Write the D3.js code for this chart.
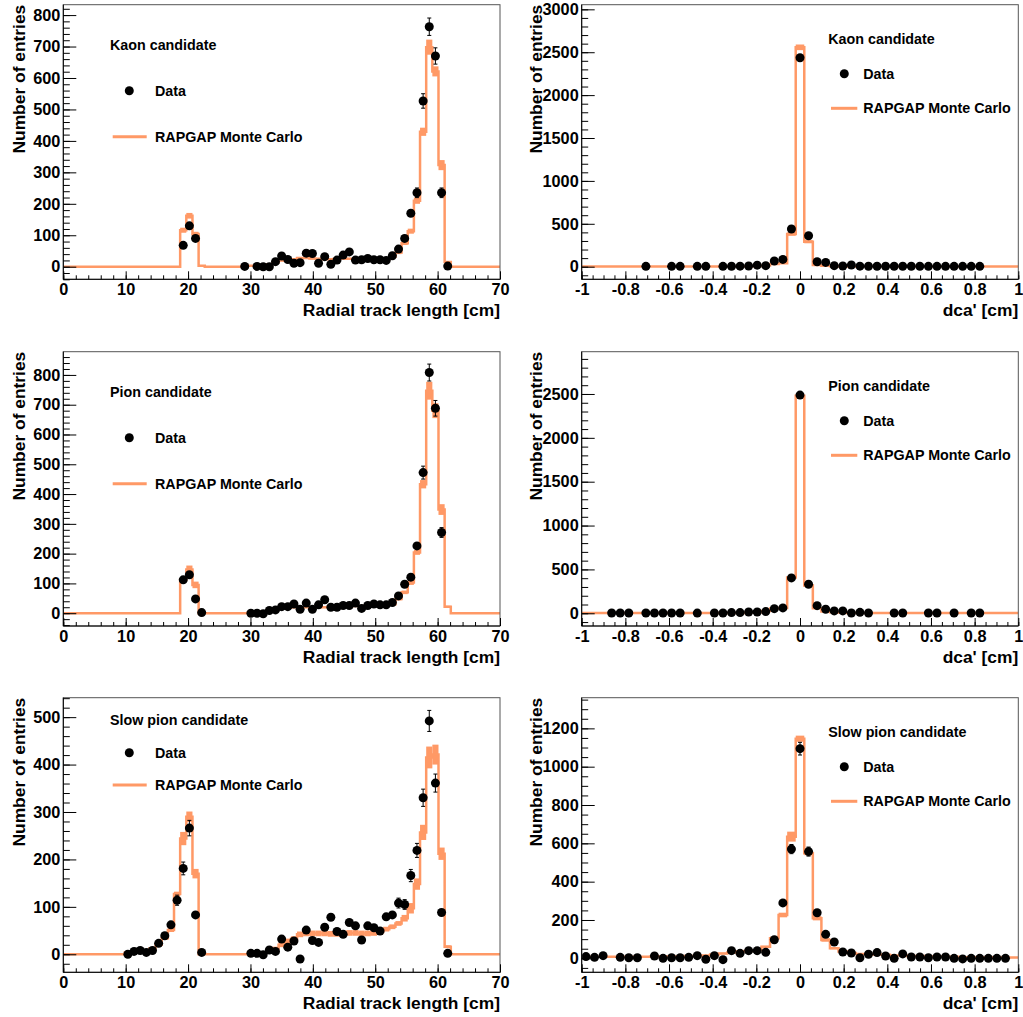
<!DOCTYPE html>
<html><head><meta charset="utf-8">
<script src="https://cdn.jsdelivr.net/npm/d3@7"></script>
<style>
body{margin:0;background:#fff}
svg{display:block}
text{font-family:"Liberation Sans",Arial,Helvetica,sans-serif;font-weight:bold;fill:#000}
</style></head>
<body><svg id="c" width="1023" height="1017"></svg>
<script>
// ---------------- data ----------------
const RADIAL_BINS = 71;   // 0..70 cm
const DCA_BINS = 51;      // -1..1 cm

const radialXTicks = [0,10,20,30,40,50,60,70];
const dcaXTicks = [-1,-0.8,-0.6,-0.4,-0.2,0,0.2,0.4,0.6,0.8,1];

// Kaon, radial track length (data from bin 19, MC from bin 18)
const kaonRadialDataFirst = 19;
const kaonRadialData = [68,130,90,null,null,null,null,null,null,null,1,null,1,0,0,16,34,23,11,13,43,42,11,32,8,21,37,47,21,22,26,22,22,20,35,56,90,170,235,527,763,670,235,2];
const kaonRadialMCFirst = 18;
const kaonRadialMC =    [0,116,162,104,3,0,0,0,0,0,0,2,3,3,5,8,14,20,20,24,28,28,26,25,24,24,25,26,25,22,22,22,22,22,24,32,45,75,113,210,429,698,621,323,15,0];
const kaonRadialMCErr = [0,8,9,7,1,0,0,0,0,0,0,1,2,2,2,3,3,3,3,3,3,3,3,3,3,3,3,3,3,3,3,3,3,3,3,4,5,6,8,10,13,24,16,16,3,0];

// Pion, radial track length
const pionRadialDataFirst = 19;
const pionRadialData = [112,129,48,2,null,null,null,null,null,null,null,0,0,-2,9,11,22,22,31,13,34,13,28,45,20,20,26,26,34,16,26,31,28,28,36,58,97,121,226,472,808,688,271];
const pionRadialMCFirst = 18;
const pionRadialMC =    [0,112,147,95,0,0,0,0,0,0,0,0,2,3,5,8,12,16,18,20,20,20,20,20,20,22,22,24,24,24,24,25,26,26,28,30,48,70,103,204,433,747,680,348,22,0];
const pionRadialMCErr = [0,5,13,11,0,0,0,0,0,0,0,0,1,2,2,2,3,3,3,3,3,3,3,3,3,3,3,3,3,3,3,3,3,3,3,4,5,6,8,8,14,30,25,18,3,0];

// Slow pion, radial track length
const slowRadialDataFirst = 10;
const slowRadialData = [0,6,8,4,8,23,39,62,114,181,266,83,4,null,null,null,null,null,null,null,2,2,-1,9,6,32,15,28,-10,51,29,25,57,78,48,42,67,60,30,60,56,49,79,83,108,105,166,219,330,492,361,88,2];
const slowRadialMCFirst = 9;
const slowRadialMC =    [0,4,5,6,8,12,20,34,51,127,244,290,170,0,0,0,0,0,0,0,0,3,3,4,6,12,20,27,32,42,44,44,44,44,43,43,44,45,45,44,44,45,47,53,58,65,76,97,148,257,415,421,212,16,0];
const slowRadialMCErr = [0,2,2,2,2,3,3,3,4,5,14,11,10,0,0,0,0,0,0,0,0,2,2,2,3,4,5,6,6,6,6,6,6,6,6,6,6,6,6,6,6,6,6,5,5,5,7,11,12,16,23,21,13,3,0];

// Kaon, dca'
const kaonDcaData = [null,null,null,null,null,null,null,4,null,null,4,4,null,4,4,null,4,5,6,8,18,12,66,85,439,2436,361,58,50,12,8,20,6,5,5,5,5,5,5,5,4,4,4,4,4,4,4,null,null,null,null];
const kaonDcaMC =    [3,3,3,3,3,3,3,3,3,3,3,3,3,3,3,3,3,3,3,5,8,15,30,40,380,2557,291,20,10,6,3,3,3,3,3,3,3,3,3,3,3,3,3,3,3,3,3,3,3,3,3];
const kaonDcaMCErr = [1,1,1,1,1,1,1,1,1,1,1,1,1,1,1,1,1,1,1,1,2,3,4,5,20,33,18,3,2,2,1,1,1,1,1,1,1,1,1,1,1,1,1,1,1,1,1,1,1,1,1];

// Pion, dca'
const pionDcaData = [null,null,null,3,3,3,null,3,3,3,3,3,null,2,null,3,3,8,8,15,15,19,53,61,403,2487,331,87,46,27,27,3,11,3,null,null,3,3,null,null,3,3,null,3,null,3,3,null,null,null,null];
const pionDcaMC =    [3,3,3,3,3,3,3,3,3,3,3,3,3,3,3,3,3,3,3,8,12,25,55,60,407,2479,316,57,20,12,8,4,4,4,4,4,4,4,4,4,4,4,4,4,4,4,4,4,4,4,4];
const pionDcaMCErr = [1,1,1,1,1,1,1,1,1,1,1,1,1,1,1,1,1,1,1,1,2,3,5,5,10,12,9,5,2,2,1,1,1,1,1,1,1,1,1,1,1,1,1,1,1,1,1,1,1,1,1];

// Slow pion, dca'
const slowDcaData = [9,5,14,null,5,3,3,null,12,0,3,3,5,14,-5,14,-7,40,26,40,40,31,97,289,570,1094,557,238,125,85,33,28,3,21,30,12,0,23,7,7,3,7,7,0,-3,0,0,0,0,0,null];
const slowDcaMC =    [8,8,8,8,8,8,8,8,10,10,10,10,12,12,15,20,25,30,35,38,42,60,105,226,635,1146,548,209,96,52,35,28,22,22,20,18,15,15,12,12,10,10,8,8,6,6,5,5,5,4,4];
const slowDcaMCErr = [3,3,3,3,3,3,3,3,3,3,3,3,3,3,3,3,4,4,4,4,4,5,8,12,26,16,10,11,9,5,4,3,3,3,3,3,3,3,3,3,3,3,3,3,3,3,3,3,3,3,3];

// ---------------- layout / style ----------------
const COLS = [[63.3,500],[581.7,1018.3]];
const ROWS = [[4.7,279.3],[351.7,626],[697.7,972.3]];
const MC_COLOR = "#ff9966";
const FRAME_COLOR = "#555";

const legendLeftA = {titleX:110, titleDy:45.3, markX:129.3, markDy:86, textX:155, lineX:[112.7,146.7], lineDy:132};
const legendLeftB = {titleX:110, titleDy:27.3, markX:129.3, markDy:55, textX:155, lineX:[112.7,146.7], lineDy:87.3};
const legendRight = {titleX:828.3, titleDy:39.3, markX:844.3, markDy:69, textX:863.3, lineX:[831,857.3], lineDy:103.6};

const panels = [
  {title:"Kaon candidate", col:0,row:0, kind:"radial", yDomain:[-40,833], yMajor:100, yMinor:20,
   data:kaonRadialData, dataFirst:kaonRadialDataFirst, mc:kaonRadialMC, mcErr:kaonRadialMCErr, mcFirst:kaonRadialMCFirst, leg:legendLeftA},
  {title:"Kaon candidate", col:1,row:0, kind:"dca", yDomain:[-147,3054], yMajor:500, yMinor:100,
   data:kaonDcaData, dataFirst:0, mc:kaonDcaMC, mcErr:kaonDcaMCErr, mcFirst:0, leg:legendRight},
  {title:"Pion candidate", col:0,row:1, kind:"radial", yDomain:[-43,878], yMajor:100, yMinor:20,
   data:pionRadialData, dataFirst:pionRadialDataFirst, mc:pionRadialMC, mcErr:pionRadialMCErr, mcFirst:pionRadialMCFirst, leg:legendLeftA},
  {title:"Pion candidate", col:1,row:1, kind:"dca", yDomain:[-145,2982], yMajor:500, yMinor:100,
   data:pionDcaData, dataFirst:0, mc:pionDcaMC, mcErr:pionDcaMCErr, mcFirst:0, leg:legendRight},
  {title:"Slow pion candidate", col:0,row:2, kind:"radial", yDomain:[-38,541], yMajor:100, yMinor:20,
   data:slowRadialData, dataFirst:slowRadialDataFirst, mc:slowRadialMC, mcErr:slowRadialMCErr, mcFirst:slowRadialMCFirst, leg:legendLeftB},
  {title:"Slow pion candidate", col:1,row:2, kind:"dca", yDomain:[-73,1360], yMajor:200, yMinor:50,
   data:slowDcaData, dataFirst:0, mc:slowDcaMC, mcErr:slowDcaMCErr, mcFirst:0, leg:legendRight}
];

const svg = d3.select("#c");

function rangeStep(lo, hi, step){
  const out=[]; const s=Math.ceil(lo/step-1e-9);
  for(let i=s; i*step<=hi+1e-9; i++) out.push(+(i*step).toFixed(6));
  return out;
}

panels.forEach((p, idx) => {
  const [x0,x1] = COLS[p.col], [y0,y1] = ROWS[p.row];
  const radial = p.kind === "radial";
  const xDomain = radial ? [0,70] : [-1,1];
  const nb = radial ? RADIAL_BINS : DCA_BINS;
  const bw = (xDomain[1]-xDomain[0])/nb;
  const edge = k => xDomain[0] + k*bw;
  const x = d3.scaleLinear().domain(xDomain).range([x0,x1]);
  const y = d3.scaleLinear().domain(p.yDomain).range([y1,y0]);
  const g = svg.append("g");

  const cid = "clip"+idx;
  svg.append("clipPath").attr("id",cid).append("rect")
    .attr("x",x0).attr("y",y0).attr("width",x1-x0).attr("height",y1-y0);
  const plot = g.append("g").attr("clip-path",`url(#${cid})`);

  const mcAt = k => { const j=k-p.mcFirst; return (j>=0 && j<p.mc.length) ? p.mc[j] : 0; };
  const mcErrAt = k => { const j=k-p.mcFirst; return (j>=0 && j<p.mcErr.length) ? p.mcErr[j] : 0; };
  const bins = d3.range(nb).map(k => ({k, v:mcAt(k), e:mcErrAt(k)}));

  // MC error band
  plot.selectAll("rect.band").data(bins.filter(b=>b.e>0)).join("rect")
    .attr("x", b=>x(edge(b.k))).attr("width", b=>x(edge(b.k+1))-x(edge(b.k)))
    .attr("y", b=>y(b.v+b.e)).attr("height", b=>Math.max(0,y(b.v-b.e)-y(b.v+b.e)))
    .attr("fill", MC_COLOR);

  // MC step line
  let d = `M${x(edge(0))},${y(bins[0].v)}`;
  bins.forEach((b,i) => {
    d += `H${x(edge(b.k+1))}`;
    if(i+1<bins.length) d += `V${y(bins[i+1].v)}`;
  });
  plot.append("path").attr("d",d).attr("fill","none").attr("stroke",MC_COLOR).attr("stroke-width",2.5);

  // data points with statistical error bars
  const pts = p.data.map((v,i)=>({k:i+p.dataFirst, v})).filter(o=>o.v!==null);
  const cx = o => x(edge(o.k)+bw/2);
  const err = o => Math.sqrt(Math.abs(o.v));
  const eb = pts.filter(o => (y(o.v-err(o))-y(o.v+err(o)))/2 > 4.5);
  plot.selectAll("line.eb").data(eb).join("line")
    .attr("x1",cx).attr("x2",cx).attr("y1",o=>y(o.v-err(o))).attr("y2",o=>y(o.v+err(o)))
    .attr("stroke","#000").attr("stroke-width",1);
  ["lo","hi"].forEach(side=>{
    plot.selectAll("line.cap"+side).data(eb).join("line")
      .attr("x1",o=>cx(o)-2).attr("x2",o=>cx(o)+2)
      .attr("y1",o=>y(side==="lo"?o.v-err(o):o.v+err(o)))
      .attr("y2",o=>y(side==="lo"?o.v-err(o):o.v+err(o)))
      .attr("stroke","#000").attr("stroke-width",1);
  });
  plot.selectAll("circle.pt").data(pts).join("circle")
    .attr("cx",cx).attr("cy",o=>y(o.v)).attr("r",4.5).attr("fill","#000");

  // frame
  g.append("rect").attr("x",x0).attr("y",y0).attr("width",x1-x0).attr("height",y1-y0)
    .attr("fill","none").attr("stroke",FRAME_COLOR).attr("stroke-width",1);

  // axes
  const xMajor = radial ? radialXTicks : dcaXTicks;
  const xMinor = radial ? rangeStep(0,70,2) : rangeStep(-1,1,0.05);
  const fmt = v => String(Math.round(v*10)/10);
  const styleAxis = sel => { sel.select(".domain").remove(); sel.attr("font-family",null).attr("font-size",null);
    sel.selectAll("text").attr("font-size",16.3).attr("fill","#000"); sel.selectAll("line").attr("stroke","#000"); };

  g.append("g").attr("transform",`translate(0,${y1})`)
    .call(d3.axisBottom(x).tickValues(xMinor).tickSize(-4).tickFormat("")).call(styleAxis);
  g.append("g").attr("transform",`translate(0,${y1})`)
    .call(d3.axisBottom(x).tickValues(xMajor).tickSize(-8).tickPadding(4).tickFormat(fmt)).call(styleAxis);

  const yMinorT = rangeStep(p.yDomain[0],p.yDomain[1],p.yMinor);
  const yMajorT = rangeStep(Math.max(0,p.yDomain[0]),p.yDomain[1],p.yMajor);
  g.append("g").attr("transform",`translate(${x0},0)`)
    .call(d3.axisLeft(y).tickValues(yMinorT).tickSize(-6.5).tickFormat("")).call(styleAxis);
  g.append("g").attr("transform",`translate(${x0},0)`)
    .call(d3.axisLeft(y).tickValues(yMajorT).tickSize(-13).tickPadding(3).tickFormat(d3.format("d"))).call(styleAxis);
  g.append("line").attr("x1",x0).attr("x2",x1).attr("y1",y1).attr("y2",y1).attr("stroke","#000");
  g.append("line").attr("x1",x0).attr("x2",x0).attr("y1",y0).attr("y2",y1).attr("stroke","#000");

  // axis titles
  g.append("text").attr("x",x1).attr("y",y1+37).attr("text-anchor","end").attr("font-size",17.4)
    .text(radial ? "Radial track length [cm]" : "dca' [cm]");
  const yTitleX = p.col===0 ? 24.5 : 541.5;
  g.append("text").attr("transform",`translate(${yTitleX},${y0}) rotate(-90)`)
    .attr("text-anchor","end").attr("font-size",17.4).text("Number of entries");

  // legend
  const L = p.leg;
  g.append("text").attr("x",L.titleX).attr("y",y0+L.titleDy).attr("font-size",14.3).text(p.title);
  g.append("circle").attr("cx",L.markX).attr("cy",y0+L.markDy).attr("r",4.5).attr("fill","#000");
  g.append("text").attr("x",L.textX).attr("y",y0+L.markDy+5).attr("font-size",14.3).text("Data");
  g.append("line").attr("x1",L.lineX[0]).attr("x2",L.lineX[1]).attr("y1",y0+L.lineDy).attr("y2",y0+L.lineDy)
    .attr("stroke",MC_COLOR).attr("stroke-width",3);
  g.append("text").attr("x",L.textX).attr("y",y0+L.lineDy+5).attr("font-size",14.3).text("RAPGAP Monte Carlo");
});
</script>
</body></html>
